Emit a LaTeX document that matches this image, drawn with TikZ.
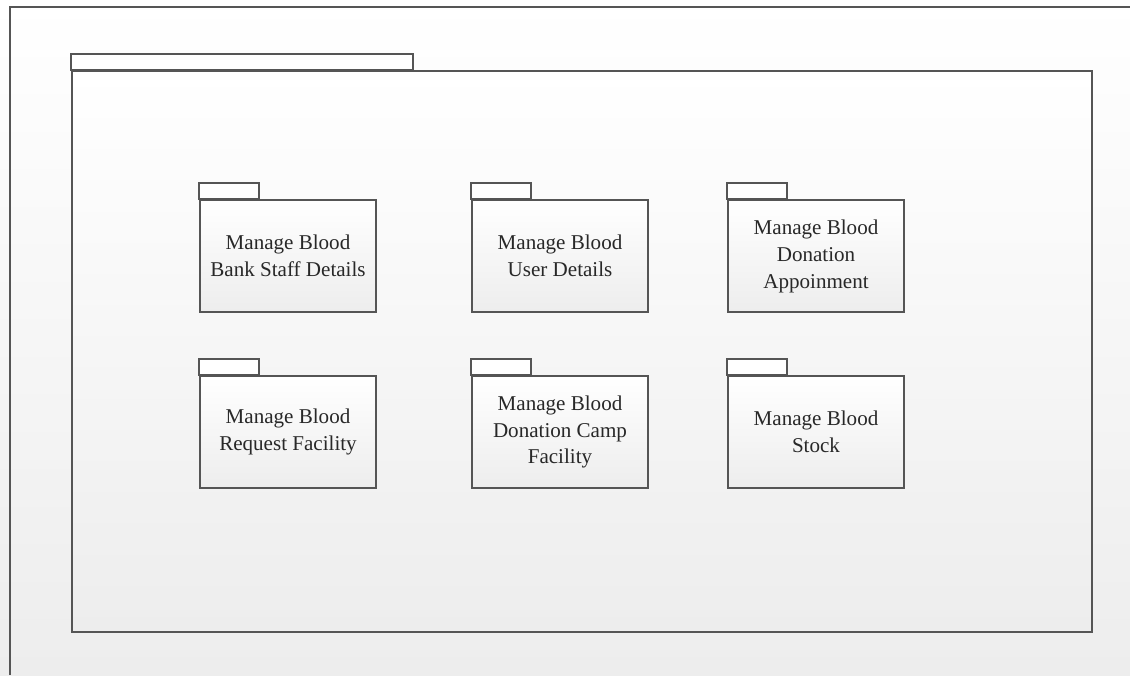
\documentclass[tikz,border=0pt]{standalone}
\usepackage{fontspec}
\setmainfont{Liberation Serif}
\definecolor{pkgline}{RGB}{85,85,85}
\definecolor{pkgtext}{RGB}{40,40,40}
\definecolor{bggray}{RGB}{237,237,237}

\begin{document}
\begin{tikzpicture}[x=0.75pt, y=-0.75pt,
  pkg/.style={draw=pkgline, line width=1.3pt, top color=white, bottom color=bggray,
    minimum width=132pt, minimum height=84pt, align=center, inner sep=2pt,
    font=\fontsize{15.8}{20.2}\selectfont, text=pkgtext},
  tab/.style={draw=pkgline, line width=1.3pt, fill=white}
]
  % Background and outer frame
  \fill[top color=white, bottom color=bggray] (0,0) rectangle (1130,675);
  \useasboundingbox (0,0) rectangle (1130,675);
  \draw[pkgline, line width=1.4pt] (10,675) -- (10,7) -- (1130,7);

  % System package
  \node[pkg, minimum width=765pt, minimum height=420.75pt] (system) at (582,351.5) {};
  \draw[tab] (system.north west) rectangle ++(342,-16);

  % Sub packages
  \node[pkg] (staff) at (288,256) {Manage Blood\\Bank Staff Details};
  \node[pkg] (user) at (560,256) {Manage Blood\\User Details};
  \node[pkg] (appoint) at (816,256) {Manage Blood\\Donation\\Appoinment};
  \node[pkg] (request) at (288,432) {Manage Blood\\Request Facility};
  \node[pkg] (camp) at (560,432) {Manage Blood\\Donation Camp\\Facility};
  \node[pkg] (stock) at (816,432) {Manage Blood\\Stock};

  \draw[tab] (staff.north west) rectangle ++(60,-16);
  \draw[tab] (user.north west) rectangle ++(60,-16);
  \draw[tab] (appoint.north west) rectangle ++(60,-16);
  \draw[tab] (request.north west) rectangle ++(60,-16);
  \draw[tab] (camp.north west) rectangle ++(60,-16);
  \draw[tab] (stock.north west) rectangle ++(60,-16);
\end{tikzpicture}
\end{document}
